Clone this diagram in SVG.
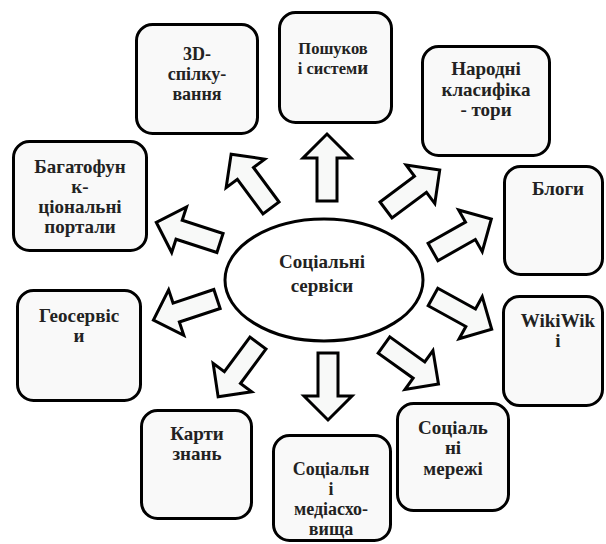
<svg xmlns="http://www.w3.org/2000/svg" width="606" height="544" viewBox="0 0 606 544">
<defs>
<style>
.box{fill:#f9f9f9;stroke:#000;stroke-width:3}
.arr{fill:#f8f9f8;stroke:#000;stroke-width:3;stroke-linejoin:miter}
</style>
<polygon id="a" points="0,-10 43,-10 43,-24 67,0 43,24 43,10 0,10"/>
</defs>
<rect width="606" height="544" fill="#fff"/>
<g id="connectors">
<use href="#a" class="arr" transform="translate(327,201) rotate(-90)"/>
<use href="#a" class="arr" transform="translate(271,208) rotate(-126.5)"/>
<use href="#a" class="arr" transform="translate(220,243) rotate(-162)"/>
<use href="#a" class="arr" transform="translate(217,299) rotate(161.6)"/>
<use href="#a" class="arr" transform="translate(258,343) rotate(126.5)"/>
<use href="#a" class="arr" transform="translate(328,353) rotate(90)"/>
<use href="#a" class="arr" transform="translate(384,345) rotate(35.6)"/>
<use href="#a" class="arr" transform="translate(433,297) rotate(28.8)"/>
<use href="#a" class="arr" transform="translate(433,252) rotate(-29.5)"/>
<use href="#a" class="arr" transform="translate(386,210) rotate(-36.7)"/>
</g>
<g font-family="Liberation Serif, DejaVu Serif, serif" font-weight="bold" font-size="19" text-anchor="middle" fill="#222">
<g id="center">
<ellipse cx="324" cy="280" rx="99" ry="61" fill="#fff" stroke="#000" stroke-width="3"/>
<text x="322" y="268">Соціальні</text>
<text x="322" y="292">сервіси</text>
</g>
<g id="n3d" font-size="18">
<rect class="box" x="136.5" y="24.5" width="121" height="109" rx="16"/>
<text x="197" y="60">3D-</text>
<text x="197" y="80">спілку-</text>
<text x="197" y="100">вання</text>
</g>
<g id="nsearch">
<rect class="box" x="279.5" y="12.5" width="112" height="110" rx="16"/>
<text font-size="16.5" x="333" y="54">Пошуков</text>
<text font-size="16.5" x="333" y="74">і систем<tspan font-size="19">и</tspan></text>
</g>
<g id="nfolk">
<rect class="box" x="422.5" y="46.5" width="127" height="109" rx="16"/>
<text x="486" y="75">Народні</text>
<text x="486" y="96">класифіка</text>
<text x="486" y="116">- тори</text>
</g>
<g id="nblog">
<rect class="box" x="504.5" y="166.5" width="98" height="108" rx="16"/>
<text x="558" y="195">Блоги</text>
</g>
<g id="nwiki">
<rect class="box" x="503.5" y="296.5" width="99" height="109" rx="16"/>
<text x="558" y="327">WikiWik</text>
<text x="558" y="347">і</text>
</g>
<g id="nsocnet">
<rect class="box" x="397.5" y="403.5" width="111" height="107" rx="16"/>
<text x="453" y="434">Соціаль</text>
<text x="453" y="454">ні</text>
<text x="453" y="475">мережі</text>
</g>
<g id="nmedia" font-size="18">
<rect class="box" x="273.5" y="435.5" width="117" height="105" rx="16"/>
<text x="331" y="475">Соціальн</text>
<text x="331" y="495">і</text>
<text x="331" y="515">медіасхо-</text>
<text x="331" y="535">вища</text>
</g>
<g id="nmaps">
<rect class="box" x="141.5" y="410.5" width="110" height="108" rx="16"/>
<text x="197" y="440">Карти</text>
<text x="197" y="460">знань</text>
</g>
<g id="ngeo">
<rect class="box" x="17.5" y="290.5" width="123" height="110" rx="16"/>
<text x="79" y="322">Геосервіс</text>
<text x="79" y="342">и</text>
</g>
<g id="nportal">
<rect class="box" x="13.5" y="141.5" width="133" height="109" rx="16"/>
<text x="80" y="173">Багатофун</text>
<text x="80" y="193">к-</text>
<text x="80" y="213">ціональні</text>
<text x="80" y="233">портали</text>
</g>
</g>
</svg>
